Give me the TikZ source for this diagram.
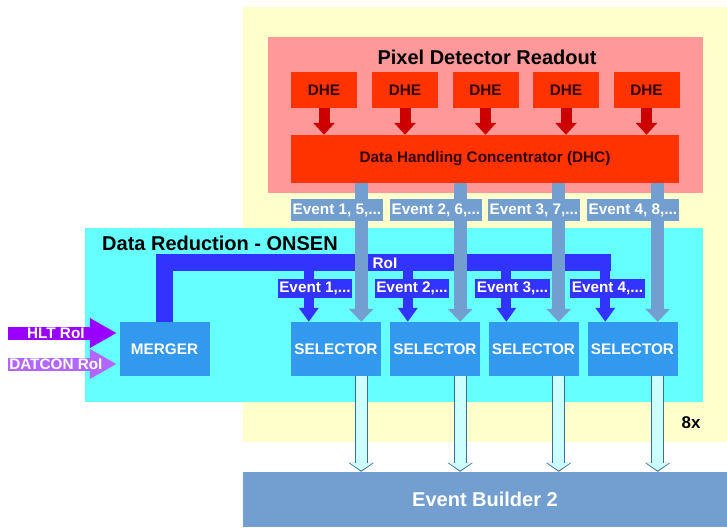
\documentclass[tikz,border=0pt]{standalone}
\usepackage{fontspec}
\setmainfont{Liberation Sans}
\usepackage{tikz}
\usetikzlibrary{arrows.meta, calc}

\definecolor{bgyellow}{HTML}{FFFFCC}
\definecolor{pdrpink}{HTML}{FF9999}
\definecolor{dhered}{HTML}{FF3300}
\definecolor{dhetext}{HTML}{330000}
\definecolor{darkarrow}{HTML}{CC0000}
\definecolor{onsencyan}{HTML}{66FFFF}
\definecolor{steel}{HTML}{729FCF}
\definecolor{roiblue}{HTML}{3333FF}
\definecolor{selblue}{HTML}{3399EE}
\definecolor{outfill}{HTML}{CCFFFF}
\definecolor{outdraw}{HTML}{3C6E9B}
\definecolor{hltpurple}{HTML}{9900FF}
\definecolor{datpurple}{HTML}{B266FF}

\begin{document}
\begin{tikzpicture}[
    x=1pt, y=-1pt,
    every node/.style={inner sep=0pt, font=\fontsize{15.3}{18}\selectfont\bfseries},
    area/.style={rectangle, fill=#1},
    heading/.style={font=\fontsize{20}{24}\selectfont\bfseries},
    dhe/.style={rectangle, fill=dhered, text=dhetext, minimum width=66pt, minimum height=36pt},
    unit/.style={rectangle, fill=selblue, text=white, minimum width=90pt, minimum height=54pt},
    evlabel/.style={rectangle, fill=steel, text=white, inner xsep=1.5pt, minimum height=22pt, anchor=west},
    roilabel/.style={rectangle, fill=roiblue, text=white, inner xsep=1.5pt, minimum height=19pt},
    dharrow/.style={darkarrow, line width=11pt, -{Triangle[width=21pt, length=12pt]}},
    evarrow/.style={steel, line width=13pt, -{Triangle[width=24pt, length=13pt]}},
    bus/.style={roiblue, line width=17pt},
    roiarrow/.style={roiblue, line width=10pt, -{Triangle[width=19pt, length=14pt]}},
    outarrow/.style={outfill, line width=11pt, -{Triangle[width=22pt, length=7.5pt]}, shorten >=1.3pt,
        preaction={draw=outdraw, line width=13pt, -{Triangle[width=25pt, length=9pt]}, shorten >=0pt}},
    inarrow/.style={#1, line width=13pt, -{Triangle[width=28pt, length=27pt]}, shorten >=2.5pt}
]
\useasboundingbox (0,0) rectangle (727,527);

% frames
\node[area=bgyellow, minimum width=484pt, minimum height=435pt] (crate) at (485,224.5) {};
\node[area=pdrpink, minimum width=435pt, minimum height=156pt] (pdr) at (485.5,115) {};
\node[heading] (pdrtitle) at (487,57) {Pixel Detector Readout};

% readout
\node[dhe] (dhe1) at (324,90) {DHE};
\node[dhe] (dhe2) at (405,90) {DHE};
\node[dhe] (dhe3) at (485.5,90) {DHE};
\node[dhe] (dhe4) at (566,90) {DHE};
\node[dhe] (dhe5) at (646.5,90) {DHE};
\node[dhe, minimum width=388pt, minimum height=48pt] (dhc) at (485,159) {Data Handling Concentrator (DHC)};

\draw[dharrow] (dhe1.south) -- (dhe1.south |- dhc.north);
\draw[dharrow] (dhe2.south) -- (dhe2.south |- dhc.north);
\draw[dharrow] (dhe3.south) -- (dhe3.south |- dhc.north);
\draw[dharrow] (dhe4.south) -- (dhe4.south |- dhc.north);
\draw[dharrow] (dhe5.south) -- (dhe5.south |- dhc.north);

% data reduction
\node[area=onsencyan, minimum width=618pt, minimum height=174pt] (onsen) at (394,315) {};
\node[heading, anchor=west] (onsentitle) at (102,243) {Data Reduction - ONSEN};
\node[unit] (merger) at (164.5,349) {MERGER};
\node[unit] (sel1) at (336,349) {SELECTOR};
\node[unit] (sel2) at (435,349) {SELECTOR};
\node[unit] (sel3) at (533.5,349) {SELECTOR};
\node[unit] (sel4) at (632.5,349) {SELECTOR};

\node[area=steel, heading, text=white, minimum width=484pt, minimum height=55pt] (eb) at (485,499.5) {Event Builder 2};
\node[font=\fontsize{17}{20}\selectfont\bfseries] (mult) at (691,423) {8x};

\coordinate (in1) at ($(sel1.north east)+(-20,0)$);
\coordinate (in2) at ($(sel2.north east)+(-20,0)$);
\coordinate (in3) at ($(sel3.north east)+(-20,0)$);
\coordinate (in4) at ($(sel4.north east)+(-20,0)$);
\coordinate (r1) at ($(sel1.north west)+(18,0)$);
\coordinate (r2) at ($(sel2.north west)+(18,0)$);
\coordinate (r3) at ($(sel3.north west)+(18,0)$);
\coordinate (r4) at ($(sel4.north west)+(18,0)$);
\coordinate (busend) at (611,262.5);

% RoI bus
\draw[bus] (merger.north) |- (busend);
\draw[roiarrow] (r1 |- busend) -- (r1);
\draw[roiarrow] (r2 |- busend) -- (r2);
\draw[roiarrow] (r3 |- busend) -- (r3);
\draw[roiarrow] (r4 |- busend) -- (r4);
\node[text=white] (roitext) at (385,263) {RoI};

% event streams
\draw[evarrow] (dhc.south -| in1) -- (in1);
\draw[evarrow] (dhc.south -| in2) -- (in2);
\draw[evarrow] (dhc.south -| in3) -- (in3);
\draw[evarrow] (dhc.south -| in4) -- (in4);

\node[evlabel] (ev1) at (291,210) {Event 1, 5,...};
\node[evlabel] (ev2) at (390,210) {Event 2, 6,...};
\node[evlabel] (ev3) at (488,210) {Event 3, 7,...};
\node[evlabel] (ev4) at (587,210) {Event 4, 8,...};

\node[roilabel] (rl1) at (315,288.5) {Event 1,...};
\node[roilabel] (rl2) at (412,288.5) {Event 2,...};
\node[roilabel] (rl3) at (512.5,288.5) {Event 3,...};
\node[roilabel] (rl4) at (607.5,288.5) {Event 4,...};

% outputs
\draw[outarrow] (sel1.south -| in1) -- (eb.north -| in1);
\draw[outarrow] (sel2.south -| in2) -- (eb.north -| in2);
\draw[outarrow] (sel3.south -| in3) -- (eb.north -| in3);
\draw[outarrow] (sel4.south -| in4) -- (eb.north -| in4);

% inputs
\coordinate (hltin) at (8,333);
\coordinate (datin) at (8,364);
\draw[inarrow=hltpurple] (hltin) -- (hltin -| merger.west) node[pos=0.43, text=white] {HLT RoI};
\draw[inarrow=datpurple] (datin) -- (datin -| merger.west) node[pos=0.43, text=white] {DATCON RoI};
\end{tikzpicture}
\end{document}
